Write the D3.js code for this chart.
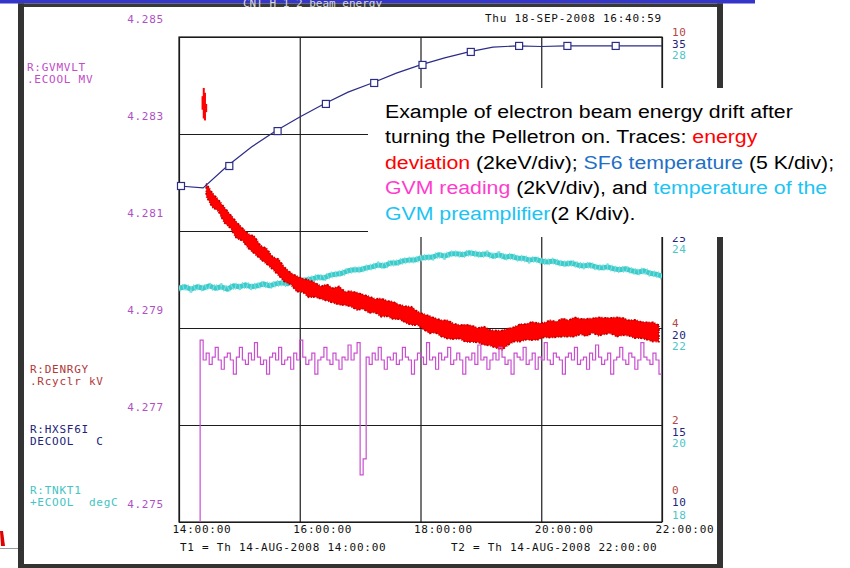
<!DOCTYPE html>
<html>
<head>
<meta charset="utf-8">
<script src="https://cdn.jsdelivr.net/npm/d3@7"></script>
<style>
  body { margin: 0; background: #fff; }
  svg { display: block; }
</style>
</head>
<body>
<div id="chart"></div>
<script>
// all times are hours after T1 = 14-AUG-2008 14:00:00
const hourTicks = [0, 2, 4, 6, 8];
const timeLabels = ["14:00:00", "16:00:00", "18:00:00", "20:00:00", "22:00:00"];
const energyTicks = [0, 2, 4, 6, 8, 10];      // R:DENRGY kV
const sf6Ticks = [10, 15, 20, 25, 30, 35];     // R:HXSF6I C
const tnkTicks = [18, 20, 22, 24, 26, 28];     // R:TNKT1 degC
const gvmTicks = [4275, 4277, 4279, 4281, 4283, 4285]; // R:GVMVLT, kV

// SF6 temperature, one sample every 0.4 h
const sf6Hours = [0, 0.4, 0.8, 1.2, 1.6, 2.0, 2.4, 2.8, 3.2, 3.6, 4.0, 4.4, 4.8, 5.2, 5.6, 6.0, 6.4, 6.8, 7.2, 7.6, 8.0];
const sf6Temp = [27.32, 27.22, 28.35, 29.33, 30.15, 30.88, 31.55, 32.16, 32.63, 33.14, 33.56,
  33.92, 34.23, 34.48, 34.54, 34.51, 34.54, 34.54, 34.54, 34.54, 34.54];

// GVM preamplifier temperature, every 0.1 h from 0
const tnkStart = 0, tnkStep = 0.1;
const tnkTemp = [22.82, 22.85, 22.80, 22.85, 22.82, 22.87, 22.82, 22.85, 22.80, 22.87,
  22.85, 22.89, 22.85, 22.87, 22.91, 22.87, 22.91, 22.93, 22.91, 22.97,
  22.95, 22.99, 23.01, 23.05, 23.03, 23.09, 23.11, 23.13, 23.18, 23.20,
  23.20, 23.24, 23.26, 23.30, 23.28, 23.34, 23.34, 23.38, 23.40, 23.40,
  23.44, 23.46, 23.46, 23.51, 23.48, 23.53, 23.53, 23.51, 23.55, 23.53,
  23.51, 23.53, 23.48, 23.51, 23.46, 23.48, 23.44, 23.44, 23.40, 23.42,
  23.38, 23.36, 23.38, 23.34, 23.32, 23.34, 23.30, 23.28, 23.30, 23.26,
  23.24, 23.26, 23.22, 23.20, 23.22, 23.18, 23.15, 23.18, 23.13, 23.11, 23.07];

// energy deviation (keV): band centre and half width, every 0.1 h from 0.45
const energyStart = 0.45, energyStep = 0.1;
const energyMid = [6.85, 6.64, 6.53, 6.33, 6.20, 6.02, 5.93, 5.79, 5.71, 5.56,
  5.48, 5.34, 5.25, 5.10, 5.02, 4.91, 4.88, 4.81, 4.79, 4.73,
  4.73, 4.67, 4.67, 4.61, 4.60, 4.55, 4.54, 4.48, 4.46, 4.42,
  4.40, 4.36, 4.33, 4.28, 4.25, 4.20, 4.13, 4.07, 4.05, 3.99,
  3.97, 3.93, 3.92, 3.89, 3.88, 3.85, 3.84, 3.80, 3.77, 3.75,
  3.82, 3.87, 3.90, 3.92, 3.94, 3.93, 3.96, 3.98, 3.97, 4.01,
  3.99, 4.02, 4.03, 4.01, 4.05, 4.03, 4.04, 4.05, 4.02, 4.03,
  4.00, 3.98, 3.96, 3.94, 3.92, 3.89];
const energySpread = [0.13, 0.15, 0.12, 0.16, 0.14, 0.17, 0.13, 0.15, 0.18, 0.14,
  0.16, 0.13, 0.17, 0.15, 0.12, 0.16, 0.14, 0.18, 0.15, 0.13,
  0.17, 0.15, 0.19, 0.14, 0.16, 0.18, 0.15, 0.17, 0.14, 0.19,
  0.16, 0.18, 0.15, 0.17, 0.19, 0.14, 0.16, 0.18, 0.15, 0.17,
  0.19, 0.16, 0.14, 0.18, 0.17, 0.15, 0.19, 0.16, 0.18, 0.20,
  0.17, 0.15, 0.18, 0.16, 0.19, 0.17, 0.15, 0.18, 0.16, 0.19,
  0.17, 0.20, 0.16, 0.18, 0.15, 0.19, 0.17, 0.16, 0.20, 0.18,
  0.16, 0.19, 0.17, 0.18, 0.20, 0.17];
// short burst just before the drift starts
const spikeHours = [0.39, 0.41, 0.43, 0.45];
const spikeLow = [8.50, 8.32, 8.28, 8.45];
const spikeHigh = [8.78, 8.95, 8.85, 8.62];

// GVM reading (kV), every 0.05 h from 0.35
const gvmStart = 0.35, gvmStep = 0.05;
const gvmKV = [4275.00,
  4278.75, 4278.34, 4278.48, 4278.25, 4278.40, 4278.60, 4278.34, 4278.15, 4278.40, 4278.48,
  4278.34, 4278.05, 4278.40, 4278.60, 4278.34, 4278.25, 4278.48, 4278.34, 4278.70, 4278.40,
  4278.25, 4278.34, 4278.05, 4278.40, 4278.48, 4278.34, 4278.60, 4278.25, 4278.34, 4278.40,
  4278.15, 4278.48, 4278.34, 4278.75, 4278.40, 4278.25, 4278.34, 4278.48, 4278.05, 4278.34,
  4278.40, 4278.60, 4278.34, 4278.25, 4278.48, 4278.34, 4278.15, 4278.40, 4278.34, 4278.65,
  4278.34, 4278.48, 4278.70, 4275.97, 4276.30, 4278.40, 4278.25, 4278.48, 4278.34, 4278.60,
  4278.34, 4278.15, 4278.40, 4278.34, 4278.48, 4278.25, 4278.34, 4278.60, 4278.40, 4278.34,
  4278.05, 4278.34, 4278.48, 4278.40, 4278.25, 4278.70, 4278.34, 4278.40, 4278.15, 4278.48,
  4278.34, 4278.40, 4278.60, 4278.25, 4278.34, 4278.48, 4278.34, 4278.05, 4278.40, 4278.34,
  4278.48, 4278.25, 4278.65, 4278.34, 4278.40, 4278.15, 4278.34, 4278.48, 4278.34, 4278.60,
  4278.40, 4278.25, 4278.34, 4278.05, 4278.48, 4278.40, 4278.34, 4278.60, 4278.25, 4278.34,
  4278.48, 4278.15, 4278.40, 4278.34, 4278.70, 4278.34, 4278.25, 4278.48, 4278.40, 4278.34,
  4278.05, 4278.40, 4278.48, 4278.34, 4278.60, 4278.25, 4278.34, 4278.40, 4278.15, 4278.48,
  4278.34, 4278.65, 4278.40, 4278.25, 4278.34, 4278.48, 4278.05, 4278.34, 4278.40, 4278.60,
  4278.34, 4278.25, 4278.48, 4278.40, 4278.15, 4278.34, 4278.70, 4278.40, 4278.34, 4278.25,
  4278.48, 4278.34, 4278.05];

const channelNames = [
  ["R:GVMVLT", ".ECOOL MV"],
  ["R:DENRGY", ".Rcyclr kV"],
  ["R:HXSF6I", "DECOOL   C"],
  ["R:TNKT1", "+ECOOL  degC"]
];

const RED = "#ff0000", SF6BLUE = "#1f6fc6", GVMPINK = "#ff3ccc", SKY = "#1cc3f3";
const noteLines = [
  [["Example of electron beam energy drift after", "#000"]],
  [["turning the Pelletron on. Traces: ", "#000"], ["energy", RED]],
  [["deviation", RED], [" (2keV/div); ", "#000"], ["SF6 temperature", SF6BLUE], [" (5 K/div);", "#000"]],
  [["GVM reading", GVMPINK], [" (2kV/div), and ", "#000"], ["temperature of the", SKY]],
  [["GVM preamplifier", SKY], ["(2 K/div).", "#000"]]
];

const MONO = "'DejaVu Sans Mono', monospace";

function monoText(sel) {
  return sel.attr("font-family", MONO).attr("font-size", 11)
    .attr("letter-spacing", 0.75).style("white-space", "pre");
}

function draw() {
  let width = 850, height = 568;
  let plot = {left: 179, right: 662, top: 37, bottom: 522};
  let panel = {x: 368, y: 88, w: 482, h: 149};

  let x = d3.scaleLinear().domain([0, 8]).range([plot.left, plot.right]);
  let yEnergy = d3.scaleLinear().domain([0, 10]).range([plot.bottom, plot.top]);
  let ySf6 = d3.scaleLinear().domain([10, 35]).range([plot.bottom, plot.top]);
  let yTnk = d3.scaleLinear().domain([18, 28]).range([plot.bottom, plot.top]);
  let yGvm = d3.scaleLinear().domain([4275, 4285]).range([plot.bottom, plot.top]);

  const svg = d3.select("#chart").append("svg")
      .attr("width", width).attr("height", height)
      .attr("viewBox", [0, 0, width, height]);

  svg.append("defs").append("clipPath").attr("id", "plotclip")
    .append("rect")
      .attr("x", plot.left).attr("y", plot.top)
      .attr("width", plot.right - plot.left).attr("height", plot.bottom - plot.top);

  // grid
  svg.append("g")
      .attr("transform", `translate(0,${plot.bottom})`)
      .call(d3.axisBottom(x).tickValues(hourTicks).tickFormat("").tickSize(-(plot.bottom - plot.top)))
      .call(g => g.select(".domain").remove())
      .call(g => g.selectAll("line").attr("stroke", "#1c1c1c").attr("stroke-width", 1.2));
  svg.append("g")
      .attr("transform", `translate(${plot.left},0)`)
      .call(d3.axisLeft(yEnergy).tickValues(energyTicks).tickFormat("").tickSize(-(plot.right - plot.left)))
      .call(g => g.select(".domain").remove())
      .call(g => g.selectAll("line").attr("stroke", "#1c1c1c").attr("stroke-width", 1.2));
  svg.append("rect")
      .attr("x", plot.left).attr("y", plot.top)
      .attr("width", plot.right - plot.left).attr("height", plot.bottom - plot.top)
      .attr("fill", "none").attr("stroke", "#1c1c1c").attr("stroke-width", 1.2);

  const traces = svg.append("g").attr("clip-path", "url(#plotclip)");

  // GVM preamplifier temperature
  traces.append("path")
      .datum(tnkTemp)
      .attr("fill", "none")
      .attr("stroke", "#3ccbcb")
      .attr("stroke-width", 5)
      .attr("stroke-linejoin", "round")
      .attr("d", d3.line()
        .x((d, i) => x(tnkStart + i * tnkStep))
        .y(d => yTnk(d)));
  traces.append("path")
      .datum(tnkTemp)
      .attr("fill", "none")
      .attr("stroke", "#7fdede")
      .attr("stroke-width", 7)
      .attr("stroke-dasharray", "1 3")
      .attr("d", d3.line()
        .x((d, i) => x(tnkStart + i * tnkStep))
        .y(d => yTnk(d)));

  // energy deviation band
  let energyBand = d3.area()
      .x((d, i) => x(energyStart + i * energyStep))
      .y0((d, i) => yEnergy(d - energySpread[i]))
      .y1((d, i) => yEnergy(d + energySpread[i]));
  traces.append("path")
      .datum(energyMid)
      .attr("fill", RED)
      .attr("d", energyBand);
  traces.append("path")
      .datum(energyMid)
      .attr("fill", "none")
      .attr("stroke", "#b80000")
      .attr("stroke-width", 1.6)
      .attr("stroke-dasharray", "1 2 2 1")
      .attr("d", energyBand);
  traces.append("g")
    .selectAll("line")
    .data(spikeHours)
    .join("line")
      .attr("x1", d => x(d)).attr("x2", d => x(d))
      .attr("y1", (d, i) => yEnergy(spikeLow[i]))
      .attr("y2", (d, i) => yEnergy(spikeHigh[i]))
      .attr("stroke", RED)
      .attr("stroke-width", 2);

  // GVM reading
  traces.append("path")
      .datum(gvmKV)
      .attr("fill", "none")
      .attr("stroke", "#c94fd0")
      .attr("stroke-width", 1.2)
      .attr("d", d3.line()
        .curve(d3.curveStepBefore)
        .x((d, i) => x(gvmStart + i * gvmStep))
        .y(d => yGvm(d)));

  // SF6 temperature with its markers
  traces.append("path")
      .datum(sf6Temp)
      .attr("fill", "none")
      .attr("stroke", "#2c2c88")
      .attr("stroke-width", 1.2)
      .attr("d", d3.line()
        .x((d, i) => x(sf6Hours[i]))
        .y(d => ySf6(d)));
  svg.append("g")
    .selectAll("rect")
    .data(sf6Temp.filter((d, i) => i % 2 == 0 && i < sf6Temp.length - 1))
    .join("rect")
      .attr("x", (d, i) => x(sf6Hours[i * 2]) + 2 - 3.5)
      .attr("y", d => ySf6(d) - 3.5)
      .attr("width", 7).attr("height", 7)
      .attr("fill", "#fff")
      .attr("stroke", "#2c2c88")
      .attr("stroke-width", 1.2);

  // time axis labels
  svg.append("g")
      .attr("transform", `translate(0,${plot.bottom})`)
      .call(d3.axisBottom(x).tickValues(hourTicks).tickSize(0).tickPadding(3)
        .tickFormat((d, i) => timeLabels[i]))
      .call(g => g.select(".domain").remove())
      .call(g => monoText(g.selectAll("text"))
        .attr("text-anchor", "start").attr("x", -7).attr("fill", "#111"));

  monoText(svg.append("text")).attr("x", 180).attr("y", 551).attr("fill", "#111")
      .text("T1 = Th 14-AUG-2008 14:00:00");
  monoText(svg.append("text")).attr("x", 451).attr("y", 551).attr("fill", "#111")
      .text("T2 = Th 14-AUG-2008 22:00:00");
  monoText(svg.append("text")).attr("x", 485).attr("y", 22).attr("fill", "#111")
      .text("Thu 18-SEP-2008 16:40:59");

  // GVM axis on the left, in MV
  svg.append("g")
      .attr("transform", "translate(164,0)")
      .call(d3.axisLeft(yGvm).tickValues(gvmTicks).tickSize(0).tickPadding(0)
        .tickFormat(d => d3.format(".3f")(d / 1000)))
      .call(g => g.select(".domain").remove())
      .call(g => monoText(g.selectAll("text")).attr("y", -18.5).attr("fill", "#b04fc4"));

  // right hand scales, three per division; the caption panel hides the ones behind it
  let rightAxes = [
    {scale: yEnergy, ticks: energyTicks, color: "#b04848", dy: -5, bottomDy: -32},
    {scale: ySf6, ticks: sf6Ticks, color: "#24247a", dy: 6.5, bottomDy: -20},
    {scale: yTnk, ticks: tnkTicks, color: "#4cc6c6", dy: 18, bottomDy: -7}
  ];
  rightAxes.forEach(a => {
    let shown = a.ticks.filter(v => {
      let cy = a.scale(v) + (v == a.ticks[0] ? a.bottomDy : a.dy);
      return cy < panel.y || cy > panel.y + panel.h - 5;
    });
    svg.append("g")
        .attr("transform", "translate(672,0)")
        .call(d3.axisRight(a.scale).tickValues(shown).tickSize(0).tickPadding(0))
        .call(g => g.select(".domain").remove())
        .call(g => monoText(g.selectAll("text"))
          .attr("y", d => d == a.ticks[0] ? a.bottomDy : a.dy)
          .attr("fill", a.color));
  });

  // channel names
  let nameRows = [
    {y: 67, x: 27, color: "#c24cc8"},
    {y: 369, x: 30, color: "#b03a3a"},
    {y: 429, x: 30, color: "#22227a"},
    {y: 490, x: 30, color: "#44c4c4"}
  ];
  nameRows.forEach((r, i) => {
    channelNames[i].forEach((line, j) => {
      monoText(svg.append("text"))
          .attr("x", r.x).attr("y", r.y + j * 12.5).attr("dy", "0.35em")
          .attr("fill", r.color)
          .text(line);
    });
  });

  // window frame
  svg.append("rect").attr("x", 0).attr("y", 0).attr("width", 755).attr("height", 3.5).attr("fill", "#3535c9");
  svg.append("rect").attr("x", 18).attr("y", 3.5).attr("width", 705).attr("height", 3.5).attr("fill", "#383838");
  svg.append("clipPath").attr("id", "titleclip")
    .append("rect").attr("x", 0).attr("y", 0).attr("width", 755).attr("height", 7);
  svg.append("text")
      .attr("clip-path", "url(#titleclip)")
      .attr("x", 243).attr("y", 7)
      .attr("font-family", MONO).attr("font-size", 11).attr("fill", "#d8d8d8")
      .text("CNT H 1 2 beam energy");
  svg.append("rect").attr("x", 18).attr("y", 3.5).attr("width", 6).attr("height", 565).attr("fill", "#333");
  svg.append("rect").attr("x", 717).attr("y", 3.5).attr("width", 6).attr("height", 565).attr("fill", "#333");
  svg.append("rect").attr("x", 18).attr("y", 564).attr("width", 705).attr("height", 4).attr("fill", "#333");
  svg.append("line").attr("x1", 0).attr("x2", 18).attr("y1", 548.5).attr("y2", 548.5)
      .attr("stroke", "#9a9a9a").attr("stroke-width", 1);
  svg.append("path").attr("d", "M0,531 L3,531 L5,546 L1,546 Z").attr("fill", "#e00000");

  // caption panel
  svg.append("rect")
      .attr("x", panel.x).attr("y", panel.y).attr("width", panel.w).attr("height", panel.h)
      .attr("fill", "#fff");
  const note = svg.append("g")
      .attr("transform", "translate(385,0) scale(1.12,1)")
      .attr("font-family", "'Liberation Sans', Arial, sans-serif")
      .attr("font-size", 19);
  noteLines.forEach((parts, i) => {
    let t = note.append("text")
        .attr("x", 0).attr("y", 118 + i * 25.4)
        .style("white-space", "pre");
    parts.forEach(p => t.append("tspan").attr("fill", p[1]).text(p[0]));
  });
}

draw();
</script>
</body>
</html>
